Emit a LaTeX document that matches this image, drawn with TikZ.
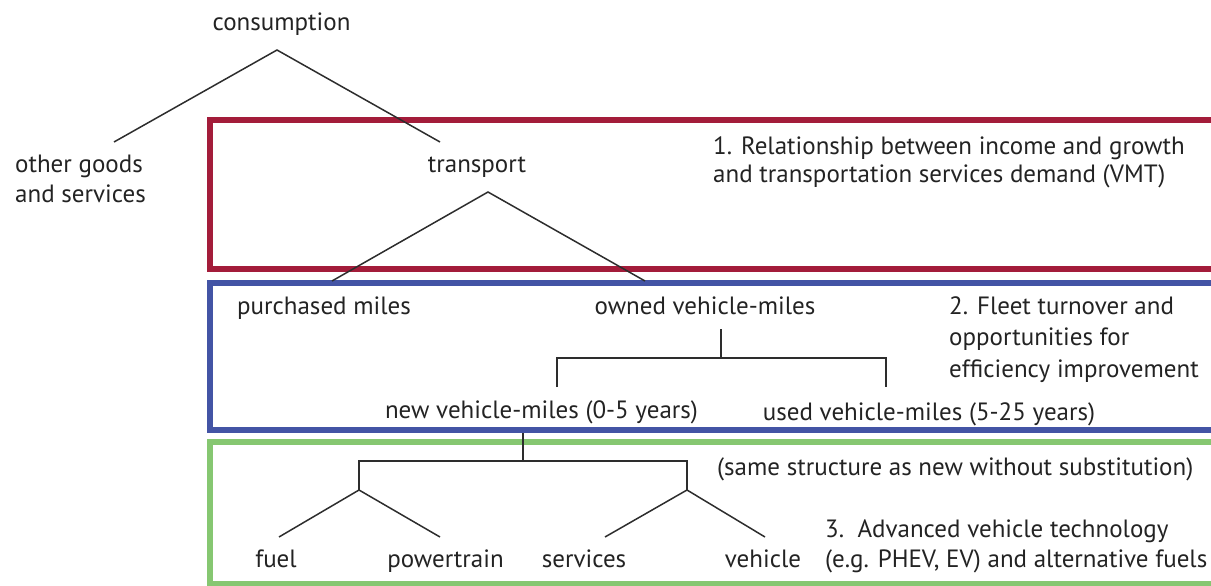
\documentclass[tikz,border=0pt]{standalone}
\usepackage{fontspec}
\setmainfont{PT Sans}
\definecolor{boxred}{RGB}{163,28,58}
\definecolor{boxblue}{RGB}{67,84,165}
\definecolor{boxgreen}{RGB}{134,199,113}
\definecolor{ink}{RGB}{35,35,35}
\definecolor{treeline}{RGB}{45,45,45}
\begin{document}
\begin{tikzpicture}[x=1pt,y=-1pt,
  lbl/.style={inner sep=0pt, font=\fontsize{25}{30}\selectfont, text=ink},
  blk/.style={lbl, align=left, anchor=north west},
  leg/.style={draw=treeline, line width=1.5pt, line join=miter},
  region/.style={line width=5.5pt}]
\useasboundingbox (0,0) rectangle (1211,586);
\clip (0,0) rectangle (1211,586);
% regions
\draw[region, draw=boxred]   (210,120) rectangle (1240,269);
\draw[region, draw=boxblue]  (210,283) rectangle (1240,430);
\draw[region, draw=boxgreen] (210,442) rectangle (1240,584);
% labels
\node[lbl, anchor=base] (cons) at (281.5,31) {consumption};
\node[blk] (other) at (15,151) {\strut other goods\\and services};
\node[lbl, anchor=base] (trans) at (477,172) {transport};
\node[blk, font=\fontsize{25}{28.5}\selectfont] (note1) at (713,134) {\strut 1. Relationship between income and growth\\and transportation services demand (VMT)};
\node[lbl, anchor=base] (purch) at (324,314) {purchased miles};
\node[lbl, anchor=base] (owned) at (705,314) {owned vehicle-miles};
\node[blk, font=\fontsize{25}{31.5}\selectfont] (note2) at (949,292) {\strut 2. Fleet turnover and\\opportunities for\\efficiency improvement};
\node[lbl, anchor=base] (newv) at (541.5,418) {new vehicle-miles (0-5 years)};
\node[lbl, anchor=base] (used) at (929,420) {used vehicle-miles (5-25 years)};
\node[lbl, anchor=base west] (same) at (717,475) {(same structure as new without substitution)};
\node[lbl, anchor=base] (fuel) at (276,567) {fuel};
\node[lbl, anchor=base] (ptrain) at (445.5,567) {powertrain};
\node[lbl, anchor=base] (svc) at (584,567) {services};
\node[lbl, anchor=base] (veh) at (763,567) {vehicle};
\node[blk] (note3) at (825,516) {\strut 3.\ \ Advanced vehicle technology\\(e.g. PHEV, EV) and alternative fuels};
% tree points
\coordinate (consA) at (277,50);
\coordinate (consL) at (114,142);
\coordinate (consR) at (440,142);
\coordinate (transA) at (488,192);
\coordinate (transL) at (332,281);
\coordinate (transR) at (645,281);
\coordinate (ownTop) at (721,329);
\coordinate (ownBar) at (721,358);
\coordinate (ownBL) at (557,387);
\coordinate (ownBR) at (886,387);
\coordinate (newTop) at (523,433);
\coordinate (newBar) at (523,461);
\coordinate (techL) at (359,490);
\coordinate (techR) at (687,490);
\coordinate (fuelE) at (279,537);
\coordinate (ptE) at (440,537);
\coordinate (svcE) at (605,537);
\coordinate (vehE) at (765,537);
% connectors
\draw[leg] (consL) -- (consA) -- (consR);
\draw[leg] (transL) -- (transA) -- (transR);
\draw[leg] (ownTop) -- (ownBar);
\draw[leg] (ownBL) |- (ownBar) -| (ownBR);
\draw[leg] (newTop) -- (newBar);
\draw[leg] (techL) |- (newBar) -| (techR);
\draw[leg] (fuelE) -- (techL) -- (ptE);
\draw[leg] (svcE) -- (techR) -- (vehE);
\end{tikzpicture}
\end{document}
